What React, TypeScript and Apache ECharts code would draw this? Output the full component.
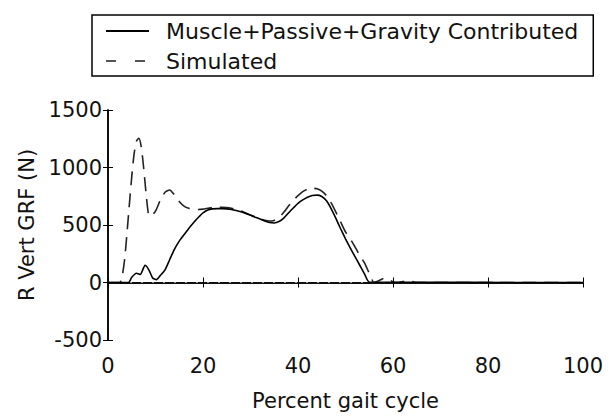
import React, { useEffect, useRef } from "react";
import * as echarts from "echarts";

const xTicks = [0, 20, 40, 60, 80, 100];
const yTicks = [-500, 0, 500, 1000, 1500];

const seriesNames = ["Muscle+Passive+Gravity Contributed", "Simulated"];

const solidX = [0, 4.3, 5, 6, 6.8, 7.8, 8.6, 9.4, 10.2, 11, 12, 13, 14, 15, 16, 17, 18, 19, 20, 21, 22, 23, 24, 25, 26, 27, 28, 29, 30, 31, 32, 33, 34, 35, 36, 37, 38, 39, 40, 41, 42, 43, 44, 45, 46, 47, 48, 49, 50, 51, 52, 53, 54, 55, 100];
const solidY = [0, 0, 45, 80, 70, 150, 110, 40, 25, 60, 110, 200, 290, 360, 415, 470, 520, 565, 605, 630, 640, 642, 642, 640, 635, 626, 615, 601, 585, 568, 552, 535, 522, 518, 530, 560, 605, 648, 688, 718, 742, 757, 760, 748, 710, 640, 555, 465, 380, 300, 225, 150, 75, 5, 0];

const simX = [0, 2.5, 3, 3.5, 4, 4.5, 5, 5.5, 6, 6.5, 7, 7.5, 8, 8.5, 9, 10, 11, 12, 13, 14, 15, 16, 17, 18, 19, 20, 21, 22, 23, 24, 25, 26, 27, 28, 29, 30, 31, 32, 33, 34, 35, 36, 37, 38, 39, 40, 41, 42, 43, 44, 45, 46, 47, 48, 49, 50, 51, 52, 53, 54, 55, 56, 57, 58, 59, 60, 61, 62, 63, 64, 65, 66, 100];
const simY = [0, 0, 60, 200, 430, 680, 920, 1120, 1230, 1255, 1180, 1000, 780, 600, 575, 620, 715, 785, 805, 760, 705, 665, 645, 638, 635, 638, 645, 652, 655, 655, 652, 645, 635, 622, 605, 588, 570, 555, 542, 535, 540, 565, 610, 665, 715, 755, 790, 812, 820, 815, 795, 755, 690, 610, 525, 440, 380, 310, 235, 170, 80, 0, 15, 35, 30, 5, 0, 8, 10, 8, 0, 0, 0];

const FONT = "DejaVu Sans";

export default function App() {
  const ref = useRef<HTMLDivElement>(null);
  useEffect(() => {
    if (!ref.current) return;
    const chart = echarts.init(ref.current, undefined, { renderer: "svg" });
    const axisLine = { show: true, lineStyle: { color: "#000", width: 1.5 } };
    const tick = { show: true, inside: true, length: 5, lineStyle: { color: "#000", width: 1 } };
    const label = { color: "#111", fontSize: 21, fontFamily: FONT, formatter: (v: number) => String(v) };
    const hiddenSymbol = { color: "rgba(0,0,0,0)", borderWidth: 0, opacity: 0 };
    chart.setOption({
      animation: false,
      backgroundColor: "#fff",
      legend: {
        orient: "vertical",
        left: 92,
        top: 15,
        padding: [5, 15, 4, 13],
        itemWidth: 43,
        itemHeight: 14,
        itemGap: 8,
        borderColor: "#000",
        borderWidth: 1.5,
        textStyle: { color: "#111", fontSize: 22, fontFamily: FONT, padding: [0, 0, 0, 12] },
        data: [
          { name: seriesNames[0], itemStyle: hiddenSymbol },
          { name: seriesNames[1], itemStyle: hiddenSymbol, lineStyle: { type: [10, 19], color: "#555" } },
        ],
      },
      grid: { left: 108, right: 26, top: 110, bottom: 69 },
      xAxis: [
        {
          type: "value",
          min: 0,
          max: 100,
          interval: 20,
          position: "bottom",
          axisLine,
          axisTick: tick,
          splitLine: { show: false },
          axisLabel: { ...label, margin: 15 },
          name: "Percent gait cycle",
          nameLocation: "middle",
          nameGap: 50,
          nameTextStyle: { color: "#111", fontSize: 21, fontFamily: FONT },
        },
        {
          type: "value",
          min: 0,
          max: 100,
          interval: 20,
          position: "top",
          axisLine,
          axisTick: tick,
          splitLine: { show: false },
          axisLabel: { show: false },
        },
      ],
      yAxis: [
        {
          type: "value",
          min: -500,
          max: 1500,
          interval: 500,
          position: "left",
          axisLine,
          axisTick: tick,
          splitLine: { show: false },
          axisLabel: { ...label, margin: 6 },
          name: "R Vert GRF (N)",
          nameLocation: "middle",
          nameGap: 64,
          nameTextStyle: { color: "#111", fontSize: 21, fontFamily: FONT },
        },
        {
          type: "value",
          min: -500,
          max: 1500,
          interval: 500,
          position: "right",
          axisLine,
          axisTick: tick,
          splitLine: { show: false },
          axisLabel: { show: false },
        },
      ],
      series: [
        {
          name: seriesNames[0],
          type: "line",
          data: solidX.map((x, i) => [x, solidY[i]]),
          symbol: "none",
          smooth: 0.2,
          lineStyle: { color: "#000", width: 1.6, type: "solid" },
          itemStyle: { color: "#000" },
          z: 3,
          markLine: {
            silent: true,
            symbol: "none",
            label: { show: false },
            lineStyle: { color: "#999", width: 1.2, type: [2, 9] },
            data: [{ yAxis: 0 }],
            z: 1,
          },
        },
        {
          name: seriesNames[1],
          type: "line",
          data: simX.map((x, i) => [x, simY[i]]),
          symbol: "none",
          smooth: 0.2,
          lineStyle: { color: "#222", width: 1.6, type: [14, 8] },
          itemStyle: { color: "#222" },
          z: 2,
        },
      ],
    });
    return () => chart.dispose();
  }, []);
  return <div ref={ref} style={{ width: 609, height: 416, position: "absolute", left: 0, top: 0 }} />;
}
